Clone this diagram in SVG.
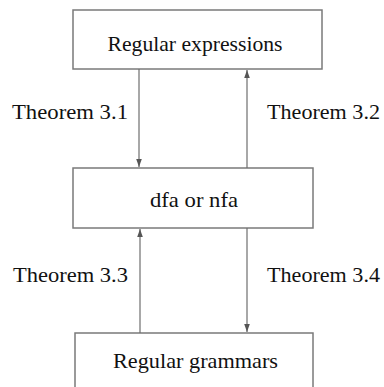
<svg xmlns="http://www.w3.org/2000/svg" width="384" height="387" viewBox="0 0 384 387">
<style>
.box{fill:#fff;stroke:#7a7a7a;stroke-width:1.5}
.lbl{font-family:'Liberation Serif','Times New Roman','DejaVu Serif',serif;font-size:21px;fill:#111}
.cn{stroke:#6e6e6e;stroke-width:1.2;fill:none}
</style>
<defs>
<marker id="ah" viewBox="0 0 10 10" refX="10" refY="5" markerWidth="8" markerHeight="8" markerUnits="userSpaceOnUse" orient="auto">
<path d="M0,1.5 L10,5 L0,8.5 Z" fill="#555"/>
</marker>
</defs>
<rect width="384" height="387" fill="#fff"/>
<g id="regex">
<rect class="box" x="73" y="10" width="249" height="59"/>
<text class="lbl" x="195" y="51" text-anchor="middle" textLength="175" lengthAdjust="spacingAndGlyphs">Regular expressions</text>
</g>
<g id="fa">
<rect class="box" x="73" y="168" width="240" height="60"/>
<text class="lbl" x="194" y="207" text-anchor="middle" textLength="88" lengthAdjust="spacingAndGlyphs">dfa or nfa</text>
</g>
<g id="grammars">
<rect class="box" x="75" y="333" width="238" height="70"/>
<text class="lbl" x="195.5" y="368" text-anchor="middle" textLength="165" lengthAdjust="spacingAndGlyphs">Regular grammars</text>
</g>
<g id="connectors">
<line class="cn" x1="139" y1="69" x2="139" y2="167" marker-end="url(#ah)"/>
<line class="cn" x1="247" y1="168" x2="247" y2="70" marker-end="url(#ah)"/>
<line class="cn" x1="140" y1="333" x2="140" y2="229" marker-end="url(#ah)"/>
<line class="cn" x1="247" y1="228" x2="247" y2="332" marker-end="url(#ah)"/>
</g>
<g id="labels">
<text class="lbl" x="12" y="119" textLength="116" lengthAdjust="spacingAndGlyphs">Theorem 3.1</text>
<text class="lbl" x="267" y="119" textLength="113" lengthAdjust="spacingAndGlyphs">Theorem 3.2</text>
<text class="lbl" x="13" y="282" textLength="115" lengthAdjust="spacingAndGlyphs">Theorem 3.3</text>
<text class="lbl" x="267" y="282" textLength="113" lengthAdjust="spacingAndGlyphs">Theorem 3.4</text>
</g>
</svg>
